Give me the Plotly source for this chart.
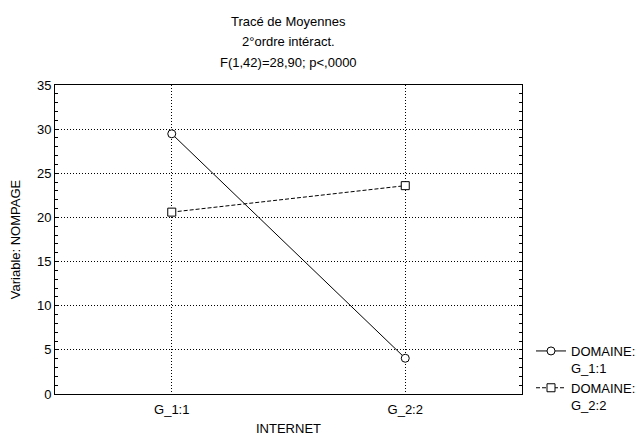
import plotly.graph_objects as go

categories = ["G_1:1", "G_2:2"]
domaine_g1 = [29.47, 4.05]
domaine_g2 = [20.6, 23.6]
series_names = ["DOMAINE:<br>G_1:1", "DOMAINE:<br>G_2:2"]
title_lines = ["Tracé de Moyennes", "2°ordre intéract.", "F(1,42)=28,90; p<,0000"]
y_ticks = [0, 5, 10, 15, 20, 25, 30, 35]

FONT = "Liberation Sans, Arial, sans-serif"
FS = 13
# page has an 8px body margin; figure laid out so plot area sits at page px 55..522 x 85..394
OFF = 8
PL, PR, PT, PB = 55, 522, 85, 394

fig = go.Figure()
fig.add_trace(go.Scatter(
    x=categories, y=domaine_g1, name=series_names[0], mode="lines+markers",
    line=dict(color="black", width=1, dash="solid"),
    marker=dict(symbol="circle", size=8, color="white", line=dict(width=1, color="black")),
))
fig.add_trace(go.Scatter(
    x=categories, y=domaine_g2, name=series_names[1], mode="lines+markers",
    line=dict(color="black", width=1, dash="4px,2px"),
    marker=dict(symbol="square", size=8, color="white", line=dict(width=1, color="black")),
))

title_px = [21, 42, 62]
for txt, py in zip(title_lines, title_px):
    fig.add_annotation(
        text=txt, xref="paper", yref="paper", x=0.5,
        y=(PB - py) / (PB - PT),
        xanchor="center", yanchor="middle", showarrow=False,
        font=dict(family=FONT, size=FS, color="black"),
    )

fig.update_layout(
    width=644 - OFF, height=437 - OFF,
    margin=dict(l=PL - OFF, r=644 - PR, t=PT - OFF, b=437 - PB, autoexpand=False),
    paper_bgcolor="white", plot_bgcolor="white",
    font=dict(family=FONT, size=FS, color="black"),
    showlegend=True,
    legend=dict(
        x=(531 - PL) / (PR - PL), y=(PB - 336) / (PB - PT),
        xanchor="left", yanchor="top",
        bgcolor="rgba(0,0,0,0)", valign="top",
        font=dict(family=FONT, size=FS, color="black"),
        itemwidth=30, borderwidth=0,
    ),
)
fig.update_xaxes(
    type="category", range=[-0.5, 1.5], automargin=False,
    showgrid=True, gridcolor="black", gridwidth=1, griddash="1px,2px",
    showline=True, linecolor="black", linewidth=1, mirror=True,
    ticks="", ticklen=0, ticklabelstandoff=3,
    title=dict(text="INTERNET", font=dict(family=FONT, size=FS), standoff=8),
    tickfont=dict(family=FONT, size=FS),
)
fig.update_yaxes(
    range=[0, 35], tickvals=y_ticks, automargin=False,
    showgrid=True, gridcolor="black", gridwidth=1, griddash="1px,2px",
    showline=True, linecolor="black", linewidth=1, mirror="allticks",
    ticks="inside", ticklen=3, tickcolor="black",
    minor=dict(dtick=1, ticks="inside", ticklen=3, tickcolor="black", showgrid=False),
    zeroline=False,
    title=dict(text="Variable: NOMPAGE", font=dict(family=FONT, size=FS), standoff=14),
    tickfont=dict(family=FONT, size=FS),
)

fig.write_html("out.html")
